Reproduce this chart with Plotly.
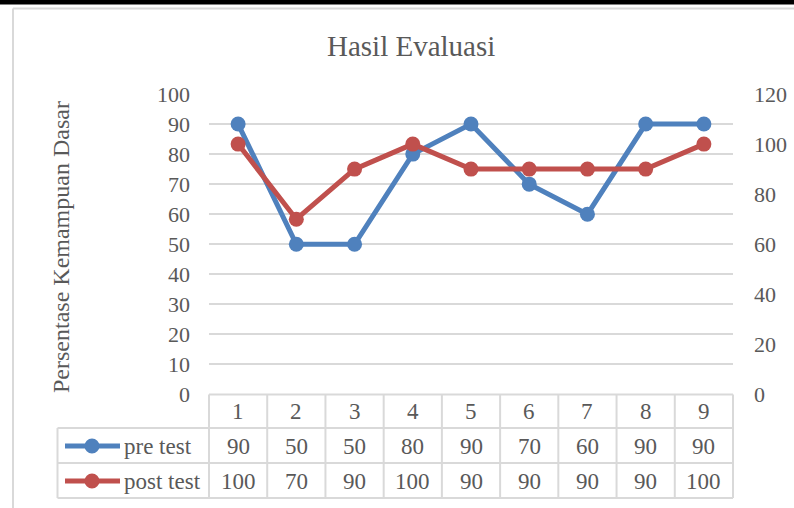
import plotly.graph_objects as go

categories = ["1", "2", "3", "4", "5", "6", "7", "8", "9"]
pre_test = [90, 50, 50, 80, 90, 70, 60, 90, 90]
post_test = [100, 70, 90, 100, 90, 90, 90, 90, 100]
series_names = ["pre test", "post test"]
left_ticks = [0, 10, 20, 30, 40, 50, 60, 70, 80, 90, 100]
right_ticks = [0, 20, 40, 60, 80, 100, 120]

W, H = 794, 508
BLUE = "#4F81BD"
RED = "#C0504D"
TXT = "#595959"
GRID = "#d9d9d9"
FONT = "Liberation Serif, Times New Roman, serif"

def px(x):
    return x / W

def py(y):
    return 1 - y / H

x_dom = [px(209), px(733)]
y_dom = [py(394.5), py(94)]

fig = go.Figure()
fig.add_trace(go.Scatter(
    x=categories, y=pre_test, name=series_names[0], mode="lines+markers",
    line=dict(color=BLUE, width=5), marker=dict(color=BLUE, size=15),
    yaxis="y", showlegend=False, cliponaxis=False))
fig.add_trace(go.Scatter(
    x=categories, y=post_test, name=series_names[1], mode="lines+markers",
    line=dict(color=RED, width=5), marker=dict(color=RED, size=15),
    yaxis="y2", showlegend=False, cliponaxis=False))

shapes = []
# top dark band and chart border
shapes.append(dict(type="rect", xref="paper", yref="paper", x0=-0.01, x1=1.01,
                   y0=py(4.5), y1=1.02, fillcolor="black", line=dict(width=0), layer="above"))
shapes.append(dict(type="line", xref="paper", yref="paper", x0=px(13), x1=1,
                   y0=py(8.5), y1=py(8.5), line=dict(color=GRID, width=2)))
shapes.append(dict(type="line", xref="paper", yref="paper", x0=px(13), x1=px(13),
                   y0=py(8.5), y1=0, line=dict(color=GRID, width=2)))

# data table lines
row_tops = [394.5, 428, 463, 498]
shapes.append(dict(type="line", xref="x domain", yref="paper", x0=0, x1=1,
                   y0=py(row_tops[0]), y1=py(row_tops[0]), line=dict(color=GRID, width=2)))
for yy in row_tops[1:]:
    shapes.append(dict(type="line", xref="paper", yref="paper", x0=px(57.5), x1=px(733),
                       y0=py(yy), y1=py(yy), line=dict(color=GRID, width=2)))
shapes.append(dict(type="line", xref="paper", yref="paper", x0=px(57.5), x1=px(57.5),
                   y0=py(row_tops[1]), y1=py(row_tops[3]), line=dict(color=GRID, width=2)))
for xd in (0, 1):
    shapes.append(dict(type="line", xref="x domain", yref="paper", x0=xd, x1=xd,
                       y0=py(row_tops[0]), y1=py(row_tops[3]), line=dict(color=GRID, width=2)))
for i in range(1, len(categories)):
    shapes.append(dict(type="line", xref="x", yref="paper", x0=i - 0.5, x1=i - 0.5,
                       y0=py(row_tops[0]), y1=py(row_tops[3]), line=dict(color=GRID, width=2)))

# legend keys in table
for color, yy in ((BLUE, 446), (RED, 481)):
    shapes.append(dict(type="line", xref="paper", yref="paper", x0=px(65), x1=px(120),
                       y0=py(yy), y1=py(yy), line=dict(color=color, width=5)))
    shapes.append(dict(type="circle", xref="paper", yref="paper",
                       xsizemode="pixel", ysizemode="pixel",
                       xanchor=px(92), yanchor=py(yy), x0=-7.5, x1=7.5, y0=-7.5, y1=7.5,
                       fillcolor=color, line=dict(width=0)))

annotations = []
annotations.append(dict(text="Hasil Evaluasi", xref="paper", yref="paper",
                        x=px(411), y=py(46), xanchor="center", yanchor="middle",
                        showarrow=False, font=dict(family=FONT, size=29, color=TXT)))
annotations.append(dict(text="Persentase Kemampuan Dasar", xref="paper", yref="paper",
                        x=px(61), y=py(247), xanchor="center", yanchor="middle", textangle=-90,
                        showarrow=False, font=dict(family=FONT, size=24, color=TXT)))
cell_font = dict(family=FONT, size=23, color=TXT)
for i, c in enumerate(categories):
    annotations.append(dict(text=c, xref="x", yref="paper", x=i, y=py(411.5),
                            showarrow=False, xanchor="center", yanchor="middle", font=cell_font))
    annotations.append(dict(text=str(pre_test[i]), xref="x", yref="paper", x=i, y=py(446),
                            showarrow=False, xanchor="center", yanchor="middle", font=cell_font))
    annotations.append(dict(text=str(post_test[i]), xref="x", yref="paper", x=i, y=py(481),
                            showarrow=False, xanchor="center", yanchor="middle", font=cell_font))
for name, yy in zip(series_names, (446, 481)):
    annotations.append(dict(text=name, xref="paper", yref="paper", x=px(122), y=py(yy),
                            showarrow=False, xanchor="left", yanchor="middle", font=cell_font))

fig.update_layout(
    width=W, height=H, margin=dict(l=0, r=0, t=0, b=0, pad=0, autoexpand=False),
    paper_bgcolor="white", plot_bgcolor="white",
    xaxis=dict(domain=x_dom, type="category", range=[-0.5, 8.5], showticklabels=False,
               showgrid=False, zeroline=False, showline=False, ticks="", automargin=False),
    yaxis=dict(domain=y_dom, range=[0, 100], tickvals=left_ticks, showgrid=True,
               gridcolor=GRID, gridwidth=2, zeroline=False, showline=False, ticks="",
               automargin=False,
               ticklabelstandoff=18, tickfont=dict(family=FONT, size=22, color=TXT)),
    yaxis2=dict(overlaying="y", side="right", range=[0, 120], tickvals=right_ticks,
                showgrid=False, zeroline=False, showline=False, ticks="", automargin=False,
                ticklabelstandoff=20, tickfont=dict(family=FONT, size=22, color=TXT)),
    shapes=shapes, annotations=annotations,
)

fig.write_html("out.html", config={"displayModeBar": False},
               post_script="document.body.style.margin='0';")
